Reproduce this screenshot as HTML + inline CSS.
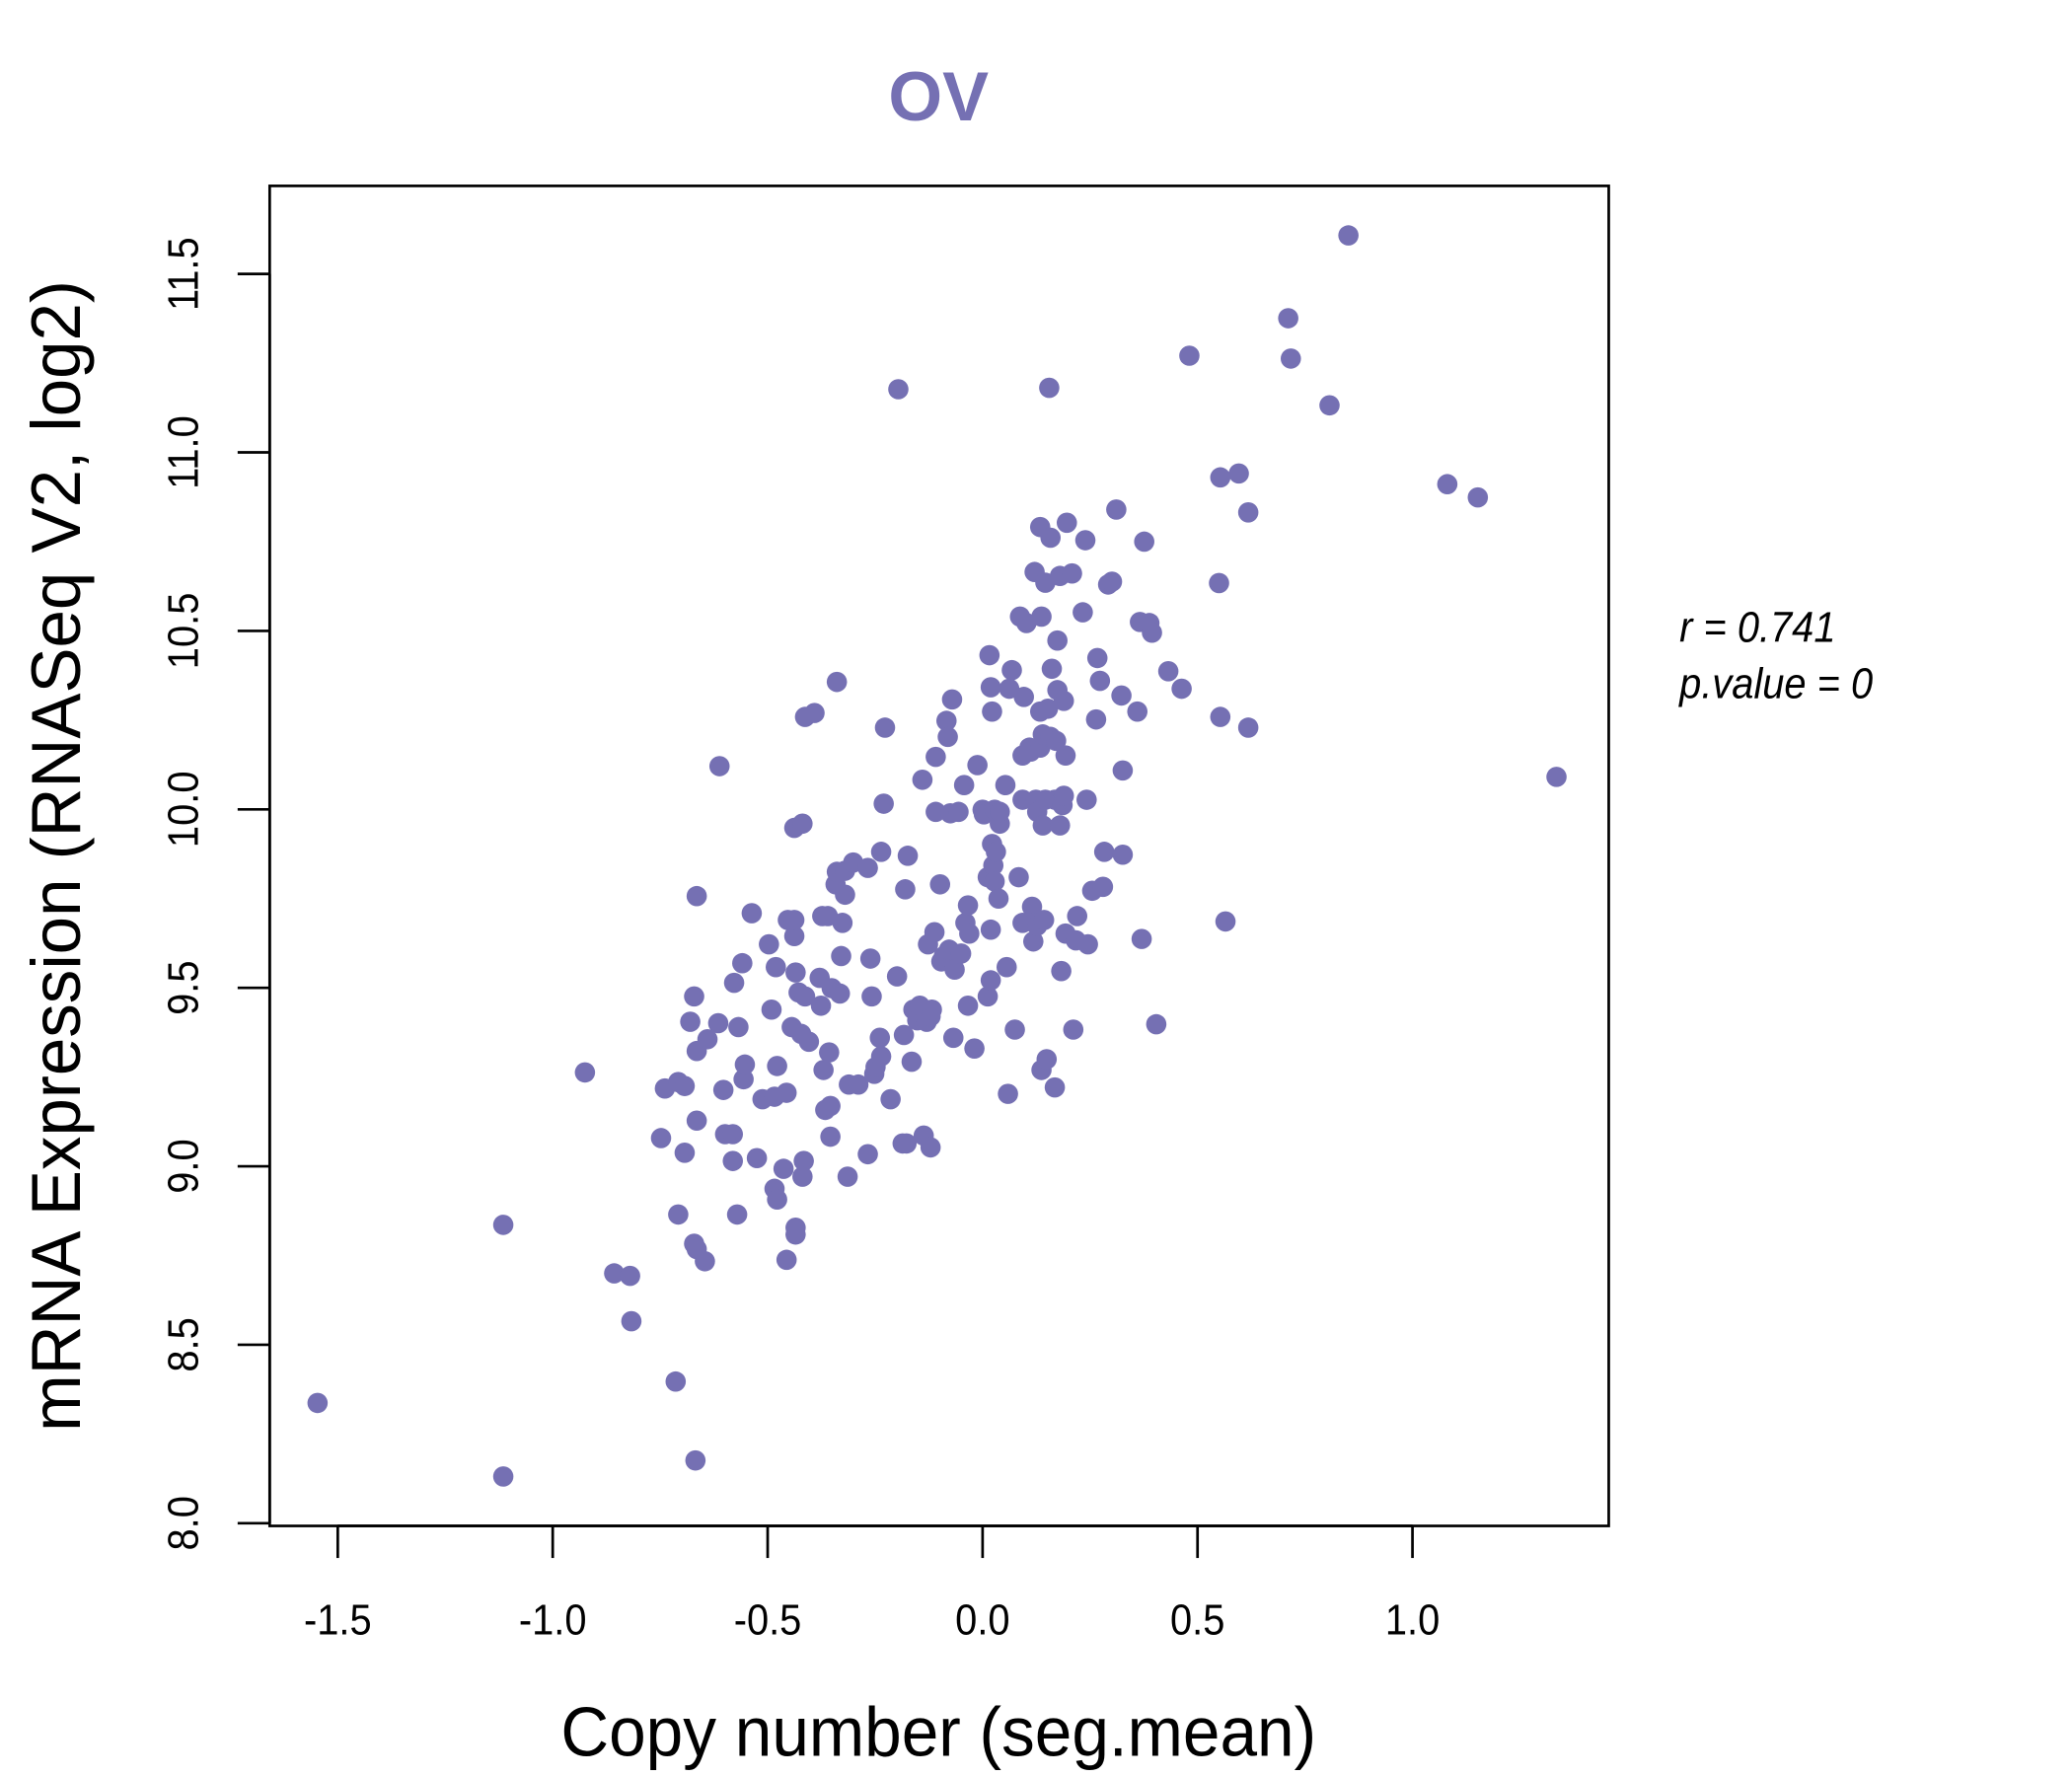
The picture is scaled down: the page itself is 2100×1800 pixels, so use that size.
<!DOCTYPE html>
<html><head><meta charset="utf-8"><style>
html,body{margin:0;padding:0;background:#fff;}
svg{display:block;font-family:"Liberation Sans",Arial,sans-serif;}
</style></head><body>
<svg id="chart" width="2100" height="1800" viewBox="0 0 1552 1328" preserveAspectRatio="none" xmlns="http://www.w3.org/2000/svg">
<rect x="0" y="0" width="1552" height="1328" fill="#fff"/>
<text x="703" y="90" text-anchor="middle" font-size="52" font-weight="bold" fill="#7570b3">OV</text>
<rect x="202" y="139" width="1003" height="1002" fill="none" stroke="#000" stroke-width="2"/>
<g id="xaxis"></g>
<g id="yaxis"></g>
<g id="points"></g>
<text x="703" y="1313" text-anchor="middle" font-size="52" transform="translate(703,0) scale(0.96,1) translate(-703,0)">Copy number (seg.mean)</text>
<text transform="translate(60,640) rotate(-90) scale(0.98,1)" text-anchor="middle" font-size="52">mRNA Expression (RNASeq V2, log2)</text>
<text x="1258" y="480" font-size="32" font-style="italic" transform="translate(1258,0) scale(0.92,1) translate(-1258,0)">r = 0.741</text>
<text x="1258" y="522" font-size="32" font-style="italic" transform="translate(1258,0) scale(0.92,1) translate(-1258,0)">p.value = 0</text>
</svg>
<script>
const xTicks = [-1.5,-1.0,-0.5,0.0,0.5,1.0];
const xTickLabels = ["-1.5","-1.0","-0.5","0.0","0.5","1.0"];
const yTicks = [8.0,8.5,9.0,9.5,10.0,10.5,11.0,11.5];
const yTickLabels = ["8.0","8.5","9.0","9.5","10.0","10.5","11.0","11.5"];
const copyNumber = [-1.547,-1.115,-1.115,-0.925,-0.857,-0.820,-0.817,-0.714,-0.668,-0.748,-0.739,-0.708,-0.693,-0.708,-0.693,-0.680,-0.671,-0.665,-0.665,-0.665,-0.671,-0.665,-0.646,-0.640,-0.615,-0.612,-0.603,-0.599,-0.581,-0.581,-0.578,-0.568,-0.571,-0.559,-0.556,-0.553,-0.537,-0.525,-0.512,-0.497,-0.491,-0.484,-0.481,-0.478,-0.484,-0.478,-0.463,-0.456,-0.456,-0.453,-0.444,-0.438,-0.438,-0.435,-0.435,-0.435,-0.438,-0.428,-0.422,-0.419,-0.419,-0.416,-0.413,-0.413,-0.404,-0.391,-0.379,-0.376,-0.373,-0.370,-0.366,-0.360,-0.357,-0.354,-0.354,-0.351,-0.342,-0.339,-0.339,-0.332,-0.329,-0.326,-0.320,-0.320,-0.314,-0.311,-0.301,-0.289,-0.267,-0.267,-0.261,-0.258,-0.252,-0.249,-0.239,-0.236,-0.236,-0.230,-0.227,-0.214,-0.199,-0.196,-0.186,-0.183,-0.180,-0.177,-0.174,-0.165,-0.161,-0.152,-0.146,-0.140,-0.137,-0.130,-0.127,-0.121,-0.121,-0.118,-0.112,-0.109,-0.109,-0.099,-0.096,-0.090,-0.084,-0.081,-0.078,-0.075,-0.071,-0.068,-0.065,-0.056,-0.050,-0.043,-0.040,-0.034,-0.034,-0.031,-0.019,-0.012,0.0,0.003,0.012,0.012,0.016,0.019,0.019,0.019,0.022,0.022,0.025,0.028,0.028,0.031,0.037,0.040,0.040,0.053,0.056,0.059,0.062,0.068,0.075,0.084,0.087,0.093,0.093,0.093,0.096,0.102,0.109,0.112,0.115,0.118,0.121,0.121,0.124,0.127,0.127,0.134,0.134,0.134,0.137,0.137,0.140,0.140,0.143,0.146,0.146,0.149,0.152,0.155,0.158,0.158,0.161,0.168,0.168,0.171,0.174,0.174,0.180,0.180,0.183,0.186,0.189,0.189,0.193,0.193,0.196,0.208,0.211,0.217,0.220,0.233,0.239,0.242,0.245,0.255,0.264,0.267,0.273,0.280,0.283,0.292,0.301,0.311,0.323,0.326,0.326,0.360,0.366,0.370,0.376,0.388,0.394,0.404,0.432,0.463,0.481,0.550,0.553,0.553,0.565,0.596,0.618,0.618,0.711,0.717,0.807,0.851,1.081,1.152,1.335];
const mrnaExpr = [8.337,8.131,8.836,9.263,8.70,8.693,8.566,8.397,8.176,9.079,9.218,9.236,9.225,8.865,9.038,9.405,9.476,9.757,9.323,9.128,8.783,8.768,8.734,9.356,9.401,10.121,9.214,9.090,9.090,9.015,9.514,9.390,8.865,9.569,9.244,9.285,9.709,9.023,9.188,9.622,9.439,9.195,9.558,9.281,8.937,8.907,8.993,9.206,8.738,9.690,9.390,9.645,9.690,9.543,8.828,8.809,9.948,9.487,9.371,9.960,8.971,9.015,9.476,10.259,9.349,10.270,9.528,9.450,9.701,9.270,9.158,9.701,9.319,9.169,9.083,9.499,9.79,10.357,9.825,9.484,9.589,9.682,9.761,9.828,8.971,9.229,9.851,9.229,9.034,9.836,9.582,9.476,9.259,9.278,9.360,9.308,9.881,10.016,10.229,9.188,9.532,11.177,9.064,9.368,9.776,9.064,9.870,9.293,9.439,9.409,9.450,10.083,9.086,9.405,9.622,9.053,9.420,9.439,9.656,10.147,9.993,9.79,9.574,9.589,10.248,10.203,9.607,9.989,10.308,9.360,9.551,9.993,9.596,10.068,9.682,9.731,9.450,9.652,9.330,10.124,9.999,9.986,9.476,9.810,10.432,10.342,9.663,9.521,10.274,9.903,9.843,9.999,9.798,9.881,9.750,9.960,9.993,10.068,9.558,9.203,10.338,10.390,9.383,9.810,10.540,10.027,9.682,10.151,10.315,10.522,10.173,10.162,9.727,9.630,9.682,10.665,10.027,9.674,9.993,10.791,10.173,10.274,9.270,10.540,9.955,10.210,9.690,10.027,10.635,9.300,10.282,11.181,10.761,10.203,10.394,10.027,9.221,10.192,10.334,10.473,10.654,9.955,9.547,10.012,10.304,10.038,10.151,9.652,10.803,10.661,9.383,9.633,9.701,10.552,10.754,10.027,9.622,9.772,10.252,10.424,10.360,9.783,9.881,10.630,10.638,10.840,10.319,9.873,10.109,10.274,10.525,9.637,10.750,10.522,10.495,9.398,10.387,10.338,11.271,10.634,10.930,10.259,9.686,10.941,10.832,10.229,11.376,11.263,11.132,11.608,10.911,10.874,10.091];

const NS = "http://www.w3.org/2000/svg";
function xScale(v){ return 736 + v*322; }
function yScale(v){ return 1139 - (v-8)*266.9; }
function mk(tag, attrs){ const e=document.createElementNS(NS,tag); for(const k in attrs) e.setAttribute(k, attrs[k]); return e; }

const xg = document.getElementById('xaxis');
const xl = mk('line',{x1:xScale(xTicks[0]),x2:xScale(xTicks[xTicks.length-1]),y1:1141,y2:1141,stroke:'#000','stroke-width':2});


xg.appendChild(xl);
xTicks.forEach((t,i)=>{
  const tk = mk('line',{x1:xScale(t),x2:xScale(t),y1:1141,y2:1165,stroke:'#000','stroke-width':2});
  
  
  xg.appendChild(tk);
  const tx = mk('text',{x:xScale(t),y:1222,'text-anchor':'middle','font-size':32,transform:'translate('+xScale(t)+',0) scale(0.92,1) translate('+(-xScale(t))+',0)'});
  
  
  tx.textContent = xTickLabels[i];
  xg.appendChild(tx);
});
const yg = document.getElementById('yaxis');
const yl = mk('line',{x1:202,x2:202,y1:yScale(yTicks[0]),y2:yScale(yTicks[yTicks.length-1]),stroke:'#000','stroke-width':2});


yg.appendChild(yl);
yTicks.forEach((t,i)=>{
  const tk = mk('line',{x1:178,x2:202,y1:yScale(t),y2:yScale(t),stroke:'#000','stroke-width':2});
  
  
  yg.appendChild(tk);
  const tx = mk('text',{transform:'translate(148,'+yScale(t)+') rotate(-90) scale(0.92,1)','text-anchor':'middle','font-size':32});
  
  
  tx.textContent = yTickLabels[i];
  yg.appendChild(tx);
});
const pg = document.getElementById('points');
copyNumber.forEach((x,i)=>{
  const c = mk('circle',{cx:xScale(x),cy:yScale(mrnaExpr[i]),r:7.6,fill:'#7570b3'});
  
  
  pg.appendChild(c);
});
</script>
</body></html>
